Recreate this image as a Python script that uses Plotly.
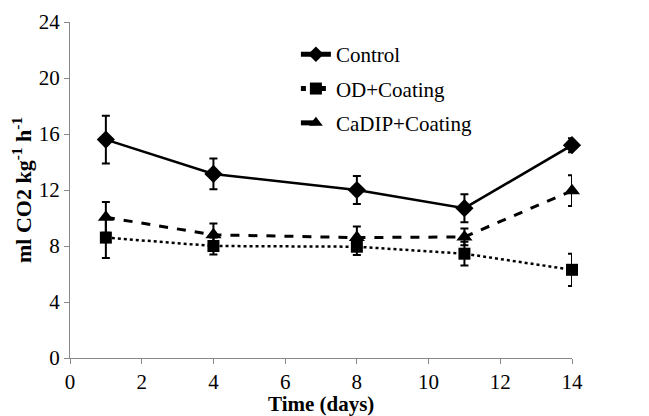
import plotly.graph_objects as go

days = [1, 4, 8, 11, 14]
control = [15.6, 13.15, 12.0, 10.7, 15.2]
control_err = [1.7, 1.1, 1.0, 1.0, 0.5]
od = [8.6, 8.0, 7.95, 7.45, 6.3]
od_err = [1.45, 0.6, 0.6, 0.85, 1.15]
cadip = [10.05, 8.8, 8.6, 8.65, 11.95]
cadip_err = [1.1, 0.8, 0.8, 0.6, 1.1]

x_ticks = [0, 2, 4, 6, 8, 10, 12, 14]
y_ticks = [0, 4, 8, 12, 16, 20, 24]

font = "Liberation Serif"

fig = go.Figure()
series = [
    ("Control", control, control_err, "solid", "diamond", 14, 2.5),
    ("OD+Coating", od, od_err, "dot", "square", 12, 2.5),
    ("CaDIP+Coating", cadip, cadip_err, "dash", "triangle-up", 14, 3),
]
for i, (name, y, err, dash, sym, ms, lw) in enumerate(series):
    fig.add_trace(go.Scatter(
        x=days, y=y, name=name, mode="lines+markers",
        line=dict(color="black", width=lw, dash=dash),
        marker=dict(symbol=sym, size=ms, color="black"),
        error_y=dict(type="data", array=err, color="black", thickness=2, width=4),
        legendgroup=f"g{i}", cliponaxis=False,
    ))

fig.update_layout(
    width=649, height=416,
    margin=dict(l=62, r=85, t=14, b=66),
    paper_bgcolor="white", plot_bgcolor="white",
    font=dict(family=font, size=21, color="black"),
    showlegend=True,
    legend=dict(x=0.45, y=0.964, xanchor="left", yanchor="top",
                bgcolor="rgba(0,0,0,0)", tracegroupgap=4, itemsizing="constant",
                font=dict(family=font, size=21)),
    xaxis=dict(range=[0, 14], tickvals=x_ticks, showgrid=False, zeroline=False,
               showline=True, linecolor="#888", linewidth=1, automargin=False,
               ticks="outside", ticklen=5, tickcolor="#888",
               tickfont=dict(family=font, size=21)),
    yaxis=dict(range=[0, 24], tickvals=y_ticks, showgrid=False, zeroline=False,
               showline=True, linecolor="#888", linewidth=1, automargin=False,
               ticks="outside", ticklen=5, tickcolor="#888",
               tickfont=dict(family=font, size=21),
               title=dict(text="<b>ml CO2 kg<sup>-1</sup> h<sup>-1</sup></b>",
                          font=dict(family=font, size=22))),
    annotations=[dict(text="<b>Time (days)</b>", xref="paper", yref="paper",
                      x=0.5, y=-0.138, xanchor="center", yanchor="middle",
                      showarrow=False, font=dict(family=font, size=21))],
)

fig.write_html("out.html")
